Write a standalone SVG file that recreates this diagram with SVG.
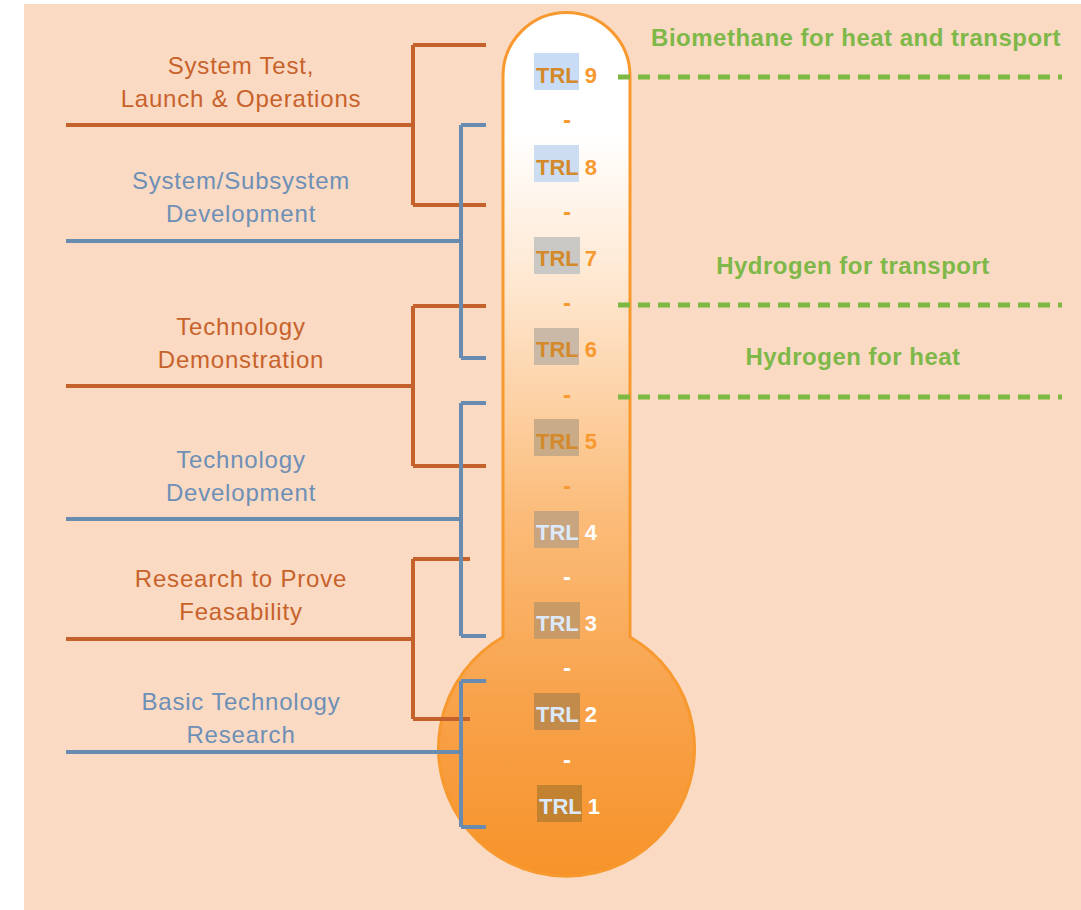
<svg xmlns="http://www.w3.org/2000/svg" width="1081" height="910" viewBox="0 0 1081 910">
<style>
.lbl{font-family:"Liberation Sans",Arial,sans-serif;font-size:24px;letter-spacing:0.8px;text-anchor:middle}
.or{fill:#C8622B}
.bl{fill:#6E8FB6}
.trl{font-family:"Liberation Sans",Arial,sans-serif;font-size:22px;font-weight:bold}
.tu{fill:#D4892A}
.nu{fill:#F7992F}
.tl{fill:#DCE9FB}
.nl{fill:#FFFFFF}
.gt{font-family:"Liberation Sans",Arial,sans-serif;font-size:24px;letter-spacing:0.5px;font-weight:bold;fill:#7DB848;text-anchor:middle}
.lo{stroke:#C5612A;stroke-width:4;fill:none}
.lb{stroke:#6A8BB0;stroke-width:4;fill:none}
.gd{stroke:#7DB843;stroke-width:5;stroke-dasharray:12 8;fill:none}
.dash{font-family:"Liberation Sans",Arial,sans-serif;font-size:24px;font-weight:bold;text-anchor:middle}
</style>
<defs>
<linearGradient id="g" gradientUnits="userSpaceOnUse" x1="0" y1="12" x2="0" y2="876">
<stop offset="0" stop-color="#FFFFFF"/>
<stop offset="0.14" stop-color="#FFFFFF"/>
<stop offset="0.33" stop-color="#FEE5CC"/>
<stop offset="0.58" stop-color="#FBBC7A"/>
<stop offset="0.8" stop-color="#F8A24A"/>
<stop offset="1" stop-color="#F7932A"/>
</linearGradient>
</defs>
<rect x="0" y="0" width="1081" height="910" fill="#FFFFFF"/>
<rect x="24" y="4" width="1057" height="906" fill="#FADAC3"/>

<g id="thermometer">
<path d="M503,637 V76 A63.5,63.5 0 0 1 630,76 V637 A128,128 0 1 1 503,637 Z" fill="url(#g)" stroke="#F7992F" stroke-width="3"/>
</g>

<g id="connectors">
<path class="lo" d="M66,125 H413 M413,45 V205 M413,45 H486 M413,205 H486"/>
<path class="lo" d="M66,386 H413 M413,306 V466 M413,306 H486 M413,466 H486"/>
<path class="lo" d="M66,639 H413 M413,559 V719 M413,559 H470 M413,719 H470"/>
<path class="lb" d="M66,241 H461 M461,125 V358 M461,125 H486 M461,358 H486"/>
<path class="lb" d="M66,519 H461 M461,403 V636 M461,403 H486 M461,636 H486"/>
<path class="lb" d="M66,752 H461 M461,681 V827 M461,681 H486 M461,827 H486"/>
<path class="gd" d="M618,77 H1062"/>
<path class="gd" d="M618,305 H1062"/>
<path class="gd" d="M618,397 H1062"/>
</g>

<g id="stage-system-test">
<text class="lbl or" x="241" y="74">System Test,</text>
<text class="lbl or" x="241" y="107">Launch &amp; Operations</text>
</g>
<g id="stage-system-dev">
<text class="lbl bl" x="241" y="189">System/Subsystem</text>
<text class="lbl bl" x="241" y="222">Development</text>
</g>
<g id="stage-tech-demo">
<text class="lbl or" x="241" y="335">Technology</text>
<text class="lbl or" x="241" y="368">Demonstration</text>
</g>
<g id="stage-tech-dev">
<text class="lbl bl" x="241" y="468">Technology</text>
<text class="lbl bl" x="241" y="501">Development</text>
</g>
<g id="stage-research">
<text class="lbl or" x="241" y="587">Research to Prove</text>
<text class="lbl or" x="241" y="620">Feasability</text>
</g>
<g id="stage-basic">
<text class="lbl bl" x="241" y="710">Basic Technology</text>
<text class="lbl bl" x="241" y="743">Research</text>
</g>

<g id="trl-9"><rect x="534" y="53" width="45" height="37" fill="#C9DCF5"/><text class="trl" x="536" y="83"><tspan class="tu">TRL</tspan><tspan class="nu" dx="6">9</tspan></text></g>
<g id="trl-8"><rect x="534" y="145" width="45" height="37" fill="#CCDDF2"/><text class="trl" x="536" y="175"><tspan class="tu">TRL</tspan><tspan class="nu" dx="6">8</tspan></text></g>
<g id="trl-7"><rect x="534" y="237" width="46" height="37" fill="#C9C8C4"/><text class="trl" x="536" y="266"><tspan class="tu">TRL</tspan><tspan class="nu" dx="6">7</tspan></text></g>
<g id="trl-6"><rect x="534" y="328" width="45" height="37" fill="#C9B9A6"/><text class="trl" x="536" y="357"><tspan class="tu">TRL</tspan><tspan class="nu" dx="6">6</tspan></text></g>
<g id="trl-5"><rect x="534" y="419" width="45" height="37" fill="#C9AB88"/><text class="trl" x="536" y="449"><tspan class="tu">TRL</tspan><tspan class="nu" dx="6">5</tspan></text></g>
<g id="trl-4"><rect x="534" y="511" width="45" height="37" fill="#C8A47F"/><text class="trl" x="536" y="540"><tspan class="tl">TRL</tspan><tspan class="nl" dx="6">4</tspan></text></g>
<g id="trl-3"><rect x="534" y="602" width="46" height="37" fill="#C89B66"/><text class="trl" x="536" y="631"><tspan class="tl">TRL</tspan><tspan class="nl" dx="6">3</tspan></text></g>
<g id="trl-2"><rect x="534" y="693" width="46" height="37" fill="#C38B4B"/><text class="trl" x="536" y="722"><tspan class="tl">TRL</tspan><tspan class="nl" dx="6">2</tspan></text></g>
<g id="trl-1"><rect x="537" y="785" width="45" height="37" fill="#C3822F"/><text class="trl" x="539" y="814"><tspan class="tl">TRL</tspan><tspan class="nl" dx="6">1</tspan></text></g>

<g id="separators">
<text class="dash nu" x="567" y="128">-</text>
<text class="dash nu" x="567" y="220">-</text>
<text class="dash nu" x="567" y="311">-</text>
<text class="dash nu" x="567" y="403">-</text>
<text class="dash nu" x="567" y="494">-</text>
<text class="dash nl" x="567" y="585">-</text>
<text class="dash nl" x="567" y="676">-</text>
<text class="dash nl" x="567" y="768">-</text>
</g>

<g id="fuel-biomethane"><text class="gt" x="856" y="46">Biomethane for heat and transport</text></g>
<g id="fuel-h2-transport"><text class="gt" x="853" y="274">Hydrogen for transport</text></g>
<g id="fuel-h2-heat"><text class="gt" x="853" y="365">Hydrogen for heat</text></g>
</svg>
